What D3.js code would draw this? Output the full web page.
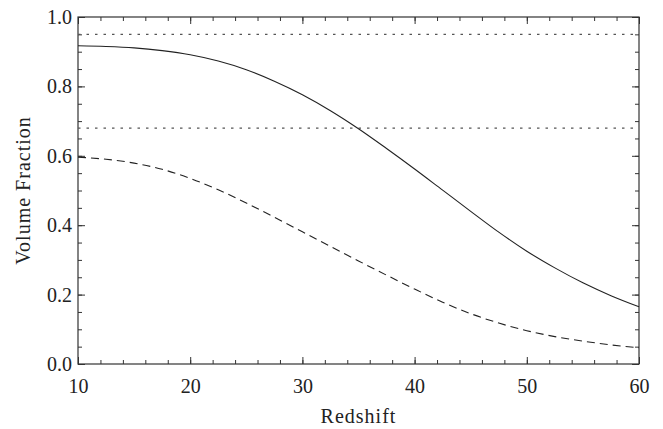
<!DOCTYPE html>
<html>
<head>
<meta charset="utf-8">
<script src="https://cdn.jsdelivr.net/npm/d3@7/dist/d3.min.js"></script>
<style>
  body { margin: 0; background: #fff; }
  svg { display: block; }
  text { font-family: "Liberation Serif", "DejaVu Serif", serif; fill: #222; }
</style>
</head>
<body>
<svg></svg>
<script>
// Volume fraction vs redshift
const SVG = d3.select('svg');
const SVG_WIDTH = 663;
const SVG_HEIGHT = 429;
const MARGIN = { top: 17, right: 24, bottom: 65, left: 78 };
const FONT = '"Liberation Serif", "DejaVu Serif", serif';

// Data
const redshift = [10, 12.5, 15, 17.5, 20, 22.5, 25, 27.5, 30, 32.5, 35, 37.5, 40, 42.5, 45, 47.5, 50, 52.5, 55, 57.5, 60];
const solidFraction = [0.917, 0.915, 0.911, 0.903, 0.891, 0.873, 0.848, 0.815, 0.776, 0.730, 0.678, 0.621, 0.562, 0.501, 0.440, 0.380, 0.325, 0.277, 0.234, 0.197, 0.165];
const dashedFraction = [0.596, 0.590, 0.579, 0.561, 0.535, 0.502, 0.464, 0.423, 0.381, 0.339, 0.297, 0.256, 0.216, 0.178, 0.145, 0.118, 0.096, 0.079, 0.066, 0.055, 0.047];
const referenceLevels = [0.95, 0.68];

const xTicks = [10, 20, 30, 40, 50, 60];
const yTicks = [0.0, 0.2, 0.4, 0.6, 0.8, 1.0];
const xMinor = d3.range(10, 60.01, 2);
const yMinor = d3.range(0, 1.001, 0.05);

SVG.attr('width', SVG_WIDTH).attr('height', SVG_HEIGHT);

const xScale = d3.scaleLinear().domain([10, 60]).range([MARGIN.left, SVG_WIDTH - MARGIN.right]);
const yScale = d3.scaleLinear().domain([0, 1]).range([SVG_HEIGHT - MARGIN.bottom, MARGIN.top]);

const plotBottom = SVG_HEIGHT - MARGIN.bottom;
const plotRight = SVG_WIDTH - MARGIN.right;

//Axes: ticks point inward on all four sides
function styleAxis(g) {
  g.attr('font-family', null);
  g.select('.domain').remove();
  g.selectAll('line').attr('stroke', '#333').attr('stroke-width', 1);
  g.selectAll('text').style('font-size', '20px').style('font-family', FONT).attr('fill', '#222');
}

// bottom
SVG.append('g').attr('transform', `translate(0, ${plotBottom})`)
   .call(d3.axisBottom(xScale).tickValues(xMinor).tickSize(-4).tickFormat(''))
   .call(styleAxis);
SVG.append('g').attr('transform', `translate(0, ${plotBottom})`)
   .call(d3.axisBottom(xScale).tickValues(xTicks).tickSize(-7).tickPadding(15).tickFormat(d3.format('d')))
   .call(styleAxis);
// top
SVG.append('g').attr('transform', `translate(0, ${MARGIN.top})`)
   .call(d3.axisTop(xScale).tickValues(xMinor).tickSize(-4).tickFormat(''))
   .call(styleAxis);
SVG.append('g').attr('transform', `translate(0, ${MARGIN.top})`)
   .call(d3.axisTop(xScale).tickValues(xTicks).tickSize(-7).tickFormat(''))
   .call(styleAxis);
// left
SVG.append('g').attr('transform', `translate(${MARGIN.left}, 0)`)
   .call(d3.axisLeft(yScale).tickValues(yMinor).tickSize(-4).tickFormat(''))
   .call(styleAxis);
SVG.append('g').attr('transform', `translate(${MARGIN.left}, 0)`)
   .call(d3.axisLeft(yScale).tickValues(yTicks).tickSize(-7).tickPadding(6).tickFormat(d3.format('.1f')))
   .call(styleAxis);
// right
SVG.append('g').attr('transform', `translate(${plotRight}, 0)`)
   .call(d3.axisRight(yScale).tickValues(yMinor).tickSize(-4).tickFormat(''))
   .call(styleAxis);
SVG.append('g').attr('transform', `translate(${plotRight}, 0)`)
   .call(d3.axisRight(yScale).tickValues(yTicks).tickSize(-7).tickFormat(''))
   .call(styleAxis);

//Frame
SVG.append('rect')
   .attr('x', MARGIN.left).attr('y', MARGIN.top)
   .attr('width', plotRight - MARGIN.left).attr('height', plotBottom - MARGIN.top)
   .attr('fill', 'none').attr('stroke', '#333').attr('stroke-width', 1.2);

//Dotted reference levels
SVG.selectAll('.ref')
   .data(referenceLevels)
   .enter()
   .append('line')
      .attr('class', 'ref')
      .attr('x1', xScale(10)).attr('x2', xScale(60))
      .attr('y1', d => yScale(d)).attr('y2', d => yScale(d))
      .attr('stroke', '#555')
      .attr('stroke-width', 1.3)
      .attr('stroke-dasharray', '2.5,6');

//Curves
const line = d3.line().curve(d3.curveMonotoneX);
const solidPts = redshift.map((z, i) => [xScale(z), yScale(solidFraction[i])]);
const dashedPts = redshift.map((z, i) => [xScale(z), yScale(dashedFraction[i])]);

SVG.append('path').attr('d', line(solidPts))
   .attr('fill', 'none').attr('stroke', '#222').attr('stroke-width', 1.1);
SVG.append('path').attr('d', line(dashedPts))
   .attr('fill', 'none').attr('stroke', '#222').attr('stroke-width', 1.1)
   .attr('stroke-dasharray', '8,5');

//Axis titles
SVG.append('text')
   .attr('x', (MARGIN.left + plotRight) / 2)
   .attr('y', 423)
   .style('text-anchor', 'middle')
   .style('font-size', '20px')
   .style('letter-spacing', '1px')
   .style('font-family', FONT)
   .text('Redshift');

SVG.append('text')
   .attr('transform', 'rotate(-90)')
   .attr('x', -(MARGIN.top + plotBottom) / 2)
   .attr('y', 30)
   .style('text-anchor', 'middle')
   .style('font-size', '20px')
   .style('letter-spacing', '1px')
   .style('font-family', FONT)
   .text('Volume Fraction');
</script>
</body>
</html>
